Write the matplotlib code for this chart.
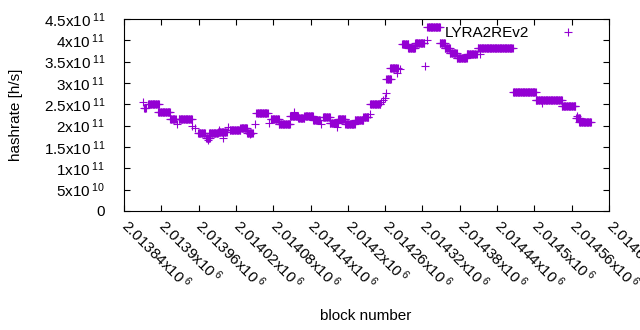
import numpy as np
import matplotlib
matplotlib.use('Agg')
import matplotlib.pyplot as plt
from matplotlib.transforms import ScaledTranslation

plt.rcParams['font.family'] = ['Liberation Sans', 'DejaVu Sans']
plt.rcParams['mathtext.default'] = 'regular'

# runs of blocks where the hashrate stayed on one level
run_start = [2013872, 2013879, 2013895, 2013914, 2013928, 2013959, 2013972, 2013977,
             2013991, 2014010, 2014027, 2014038, 2014053, 2014076, 2014089, 2014107,
             2014120, 2014130, 2014144, 2014160, 2014171, 2014184, 2014196, 2014211,
             2014225, 2014236, 2014262, 2014268, 2014287, 2014297, 2014308, 2014328,
             2014348, 2014356, 2014364, 2014375, 2014391, 2014409, 2014466, 2014502,
             2014544, 2014567, 2014572]
run_end = [2013875, 2013896, 2013914, 2013923, 2013949, 2013970, 2013978, 2013991,
           2014005, 2014027, 2014038, 2014047, 2014071, 2014089, 2014107, 2014120,
           2014130, 2014144, 2014155, 2014171, 2014184, 2014196, 2014211, 2014225,
           2014233, 2014252, 2014269, 2014280, 2014297, 2014308, 2014323, 2014348,
           2014356, 2014364, 2014375, 2014391, 2014407, 2014465, 2014502, 2014544,
           2014566, 2014573, 2014591]
run_level = [2.42e11, 2.50e11, 2.31e11, 2.15e11, 2.16e11, 1.82e11, 1.72e11, 1.82e11,
             1.85e11, 1.91e11, 1.94e11, 1.83e11, 2.29e11, 2.15e11, 2.03e11, 2.23e11,
             2.17e11, 2.23e11, 2.14e11, 2.21e11, 2.07e11, 2.15e11, 2.05e11, 2.13e11,
             2.20e11, 2.51e11, 3.09e11, 3.34e11, 3.91e11, 3.83e11, 3.93e11, 4.32e11,
             3.93e11, 3.83e11, 3.70e11, 3.59e11, 3.67e11, 3.81e11, 2.78e11, 2.59e11,
             2.47e11, 2.18e11, 2.09e11]

# isolated blocks
single_x = [2013871, 2013926, 2013949, 2013954, 2013975, 2013993, 2013999, 2014007,
            2014043, 2014050, 2014073, 2014114, 2014157, 2014182, 2014236, 2014254,
            2014257, 2014260, 2014261, 2014279, 2014284, 2014324, 2014327, 2014413,
            2014512, 2014569]
single_y = [2.55e11, 2.05e11, 2.00e11, 1.94e11, 1.66e11, 1.90e11, 1.72e11, 1.97e11,
            1.80e11, 2.03e11, 2.06e11, 2.33e11, 2.03e11, 1.96e11, 2.27e11, 2.55e11,
            2.60e11, 2.65e11, 2.76e11, 3.23e11, 3.33e11, 3.40e11, 4.01e11, 3.67e11,
            2.52e11, 2.22e11]

xticks = [2013840 + 60 * i for i in range(14)]
xlabels = ['2.01384', '2.0139', '2.01396', '2.01402', '2.01408', '2.01414', '2.0142',
           '2.01426', '2.01432', '2.01438', '2.01444', '2.0145', '2.01456', '2.01462']
yticks = [0, 0.5e11, 1e11, 1.5e11, 2e11, 2.5e11, 3e11, 3.5e11, 4e11, 4.5e11]
ylabels = ['0', '5x10$\\,^{10}$', '1x10$\\,^{11}$', '1.5x10$\\,^{11}$', '2x10$\\,^{11}$',
           '2.5x10$\\,^{11}$', '3x10$\\,^{11}$', '3.5x10$\\,^{11}$', '4x10$\\,^{11}$',
           '4.5x10$\\,^{11}$']

blocks = []
rates = []
for s, e, lv in zip(run_start, run_end, run_level):
    b = np.arange(s, e + 1)
    blocks.extend(b)
    rates.extend([lv] * len(b))
blocks.extend(single_x)
rates.extend(single_y)

fig = plt.figure(figsize=(6.4, 3.3), dpi=100)
ax = fig.add_axes([124/640, 1-211/330, 485/640, 192/330])

ax.plot(blocks, rates, linestyle='none', marker='+', markersize=5.8, markeredgewidth=0.8,
        color='#9400d3', label='LYRA2REv2')

ax.set_xlim(2013840, 2014620)
ax.set_ylim(0, 4.5e11)
ax.set_xticks(xticks)
ax.set_xticklabels([l + 'x10$\\,^{6}$' for l in xlabels], rotation=-45, ha='left', va='top',
                   rotation_mode='anchor', fontsize=11)
ax.set_yticks(yticks)
ax.set_yticklabels(ylabels, fontsize=11)
ax.tick_params(direction='in', top=True, right=True, length=4.5, width=0.8)
ax.tick_params(axis='y', pad=13.5)
ax.tick_params(axis='x', pad=8)
for sp in ax.spines.values():
    sp.set_linewidth(0.8)

# nudge rotated labels so they start right under their tick
shift = ScaledTranslation(0.07, 0.06, fig.dpi_scale_trans)
for lab in ax.get_xticklabels():
    lab.set_transform(lab.get_transform() + shift)

ax.legend(loc='upper right', frameon=False, markerfirst=False, fontsize=11,
          handletextpad=1.5, borderaxespad=0.2, bbox_to_anchor=(0.965, 1.012))

fig.text(366/640, 1-316/330, 'block number', ha='center', va='center', fontsize=11)
fig.text(16/640, 1-115/330, 'hashrate [h/s]', ha='center', va='center', rotation=90, fontsize=11)

fig.savefig('out.png', dpi=100)
